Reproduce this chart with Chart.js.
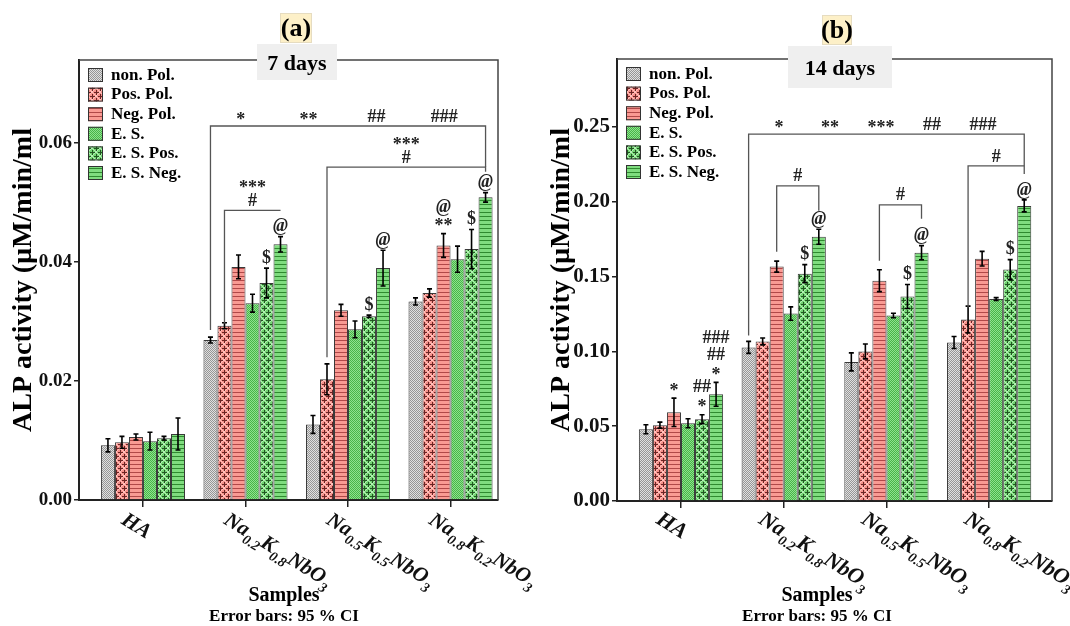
<!DOCTYPE html>
<html>
<head>
<meta charset="utf-8">
<script src="https://cdn.jsdelivr.net/npm/chart.js@4.4.0/dist/chart.umd.min.js"></script>
<style>
  body { margin: 0; background: #fff; width: 1070px; height: 626px; overflow: hidden; }
  .panel { position: absolute; top: 0; width: 535px; height: 626px; }
</style>
</head>
<body>
<div class="panel" style="left:0"><canvas id="chart7" width="535" height="626"></canvas></div>
<div class="panel" style="left:535px"><canvas id="chart14" width="535" height="626"></canvas></div>
<script>
const samples = ["HA", "Na0.2K0.8NbO3", "Na0.5K0.5NbO3", "Na0.8K0.2NbO3"];
const treatments = ["non. Pol.", "Pos. Pol.", "Neg. Pol.", "E. S.", "E. S. Pos.", "E. S. Neg."];
const yTicks7 = [0, 0.02, 0.04, 0.06];
const yTicks14 = [0, 0.05, 0.10, 0.15, 0.20, 0.25];

// one row per treatment, one column per sample
const alp7 = [
  [0.0092, 0.0269, 0.0127, 0.0334],
  [0.0097, 0.0293, 0.0203, 0.0348],
  [0.0106, 0.0392, 0.0319, 0.0428],
  [0.0099, 0.0331, 0.0287, 0.0405],
  [0.0104, 0.0365, 0.0309, 0.0422],
  [0.0111, 0.0430, 0.0390, 0.0509],
];
const ci7 = [
  [0.0011, 0.0005, 0.0015, 0.0006],
  [0.0010, 0.0005, 0.0026, 0.0007],
  [0.0005, 0.0020, 0.0010, 0.0020],
  [0.0015, 0.0015, 0.0014, 0.0022],
  [0.0003, 0.0025, 0.0002, 0.0033],
  [0.0027, 0.0013, 0.0030, 0.0008],
];
const alp14 = [
  [0.0480, 0.1027, 0.0930, 0.1060],
  [0.0507, 0.1067, 0.1000, 0.1213],
  [0.0593, 0.1567, 0.1473, 0.1620],
  [0.0520, 0.1253, 0.1240, 0.1350],
  [0.0547, 0.1520, 0.1367, 0.1547],
  [0.0713, 0.1767, 0.1660, 0.1973],
];
const ci14 = [
  [0.0030, 0.0040, 0.0060, 0.0040],
  [0.0020, 0.0023, 0.0050, 0.0090],
  [0.0095, 0.0037, 0.0073, 0.0049],
  [0.0030, 0.0045, 0.0015, 0.0010],
  [0.0030, 0.0060, 0.0080, 0.0067],
  [0.0080, 0.0050, 0.0047, 0.0040],
];

// significance marks: [sample, treatment, labels from bottom to top]
const marks7 = [
  [1, 4, ["$"]], [1, 5, ["@"]],
  [2, 4, ["$"]], [2, 5, ["@"]],
  [3, 2, ["**", "@"]], [3, 4, ["$"]], [3, 5, ["@"]],
];
const marks14 = [
  [0, 2, ["*"]], [0, 4, ["*", "##"]], [0, 5, ["*", "##", "###"]],
  [1, 4, ["$"]], [1, 5, ["@"]],
  [2, 4, ["$"]], [2, 5, ["@"]],
  [3, 4, ["$"]], [3, 5, ["@"]],
];
// brackets: from/to [sample, treatment], level and end values, label rows bottom-up
const brackets7 = [
  { from: [1, 0], to: [3, 5], top: 0.0629, ends: [0.0286, 0.0560], rows: [["*", "**", "##", "###"]] },
  { from: [2, 1], to: [3, 5], top: 0.0560, ends: [0.0240, 0.0552], rows: [["#"], ["***"]] },
  { from: [1, 1], to: [1, 5], top: 0.0487, ends: [0.0297, 0.0487], rows: [["#"], ["***"]] },
];
const brackets14 = [
  { from: [1, 0], to: [3, 5], top: 0.2453, ends: [0.1107, 0.2187], rows: [["*", "**", "***", "##", "###"]] },
  { from: [1, 2], to: [1, 5], top: 0.2107, ends: [0.1667, 0.1940], rows: [["#"]] },
  { from: [2, 2], to: [2, 5], top: 0.1980, ends: [0.1607, 0.1887], rows: [["#"]] },
  { from: [3, 1], to: [3, 5], top: 0.2240, ends: [0.1293, 0.2240], rows: [["#"]] },
];

const SERIF = '"Liberation Serif", "Times New Roman", serif';

function makePattern(kind, base, ink, light) {
  const c = document.createElement("canvas");
  const g = c.getContext("2d");
  if (kind === "dots") {
    c.width = 2; c.height = 2;
    g.fillStyle = base; g.fillRect(0, 0, 2, 2);
    g.fillStyle = ink; g.fillRect(0, 0, 1, 1); g.fillRect(1, 1, 1, 1);
  } else if (kind === "lines") {
    c.width = 4; c.height = 4;
    g.fillStyle = base; g.fillRect(0, 0, 4, 4);
    g.fillStyle = ink; g.fillRect(0, 0, 4, 1);
  } else {
    c.width = 8; c.height = 8;
    g.fillStyle = base; g.fillRect(0, 0, 8, 8);
    g.strokeStyle = light; g.lineWidth = 1;
    g.beginPath();
    g.moveTo(0, 0); g.lineTo(8, 8); g.moveTo(8, 0); g.lineTo(0, 8);
    g.stroke();
    g.fillStyle = ink;
    for (const [px, py] of [[4, 0], [0, 4]]) {
      for (const ox of [-8, 0, 8]) {
        for (const oy of [-8, 0, 8]) {
          g.fillRect(px - 2 + ox, py + oy, 5, 1);
          g.fillRect(px + ox, py - 2 + oy, 1, 5);
        }
      }
    }
  }
  return g.createPattern(c, "repeat");
}

const fills = [
  makePattern("dots", "#e0e0e0", "#969696"),
  makePattern("plus", "#f6908a", "#6a2424", "#ffc2bd"),
  makePattern("lines", "#f99a93", "#b04848"),
  makePattern("dots", "#8ee28e", "#48b448"),
  makePattern("plus", "#72d472", "#215621", "#b4efb4"),
  makePattern("lines", "#7fdc7f", "#2f8a2f"),
];

function drawSample(ctx, text, x, y, size) {
  const parts = text.split(/(\d+(?:\.\d+)?)/);
  ctx.save();
  ctx.translate(x, y);
  ctx.rotate(32 * Math.PI / 180);
  ctx.textAlign = "left";
  ctx.textBaseline = "alphabetic";
  ctx.fillStyle = "#111";
  let cx = 0;
  parts.forEach((t, i) => {
    if (!t) return;
    const sub = i % 2 === 1;
    ctx.font = `italic bold ${sub ? Math.round(size * 0.65) : size}px ${SERIF}`;
    ctx.fillText(t, cx, size * 0.78 + (sub ? size * 0.3 : 0));
    cx += ctx.measureText(t).width;
  });
  ctx.restore();
}

function markText(ctx, t, x, y) {
  ctx.font = (t === "@" ? "italic " : "") + `bold 18px ${SERIF}`;
  ctx.fillText(t, x, y + (t[0] === "*" ? 3 : 0));
}

const decor = (p) => ({
  id: "decor",
  afterDatasetsDraw(chart) {
    const ctx = chart.ctx;
    const ys = chart.scales.y;
    const barAt = (g, s) => chart.getDatasetMeta(s).data[g];
    const errTop = (g, s) => ys.getPixelForValue(p.means[s][g] + p.ci[s][g]);
    ctx.save();
    // error bars
    ctx.strokeStyle = "#000";
    ctx.lineWidth = 1.6;
    treatments.forEach((_, s) => {
      chart.getDatasetMeta(s).data.forEach((bar, g) => {
        const hi = errTop(g, s);
        const lo = ys.getPixelForValue(p.means[s][g] - p.ci[s][g]);
        ctx.beginPath();
        ctx.moveTo(bar.x, hi); ctx.lineTo(bar.x, lo);
        ctx.moveTo(bar.x - 2.5, hi); ctx.lineTo(bar.x + 2.5, hi);
        ctx.moveTo(bar.x - 2.5, lo); ctx.lineTo(bar.x + 2.5, lo);
        ctx.stroke();
      });
    });
    // marks above bars
    ctx.fillStyle = "#222";
    ctx.textAlign = "center";
    ctx.textBaseline = "middle";
    p.marks.forEach(([g, s, labels]) => {
      const x = barAt(g, s).x;
      const y0 = errTop(g, s);
      labels.forEach((t, i) => markText(ctx, t, x, y0 - 10 - i * p.markStep));
    });
    // brackets
    p.brackets.forEach((b) => {
      const x1 = barAt(b.from[0], b.from[1]).x;
      const x2 = barAt(b.to[0], b.to[1]).x;
      const yt = ys.getPixelForValue(b.top);
      ctx.strokeStyle = "#555";
      ctx.lineWidth = 1.3;
      ctx.beginPath();
      ctx.moveTo(x1, ys.getPixelForValue(b.ends[0]));
      ctx.lineTo(x1, yt);
      ctx.lineTo(x2, yt);
      ctx.lineTo(x2, ys.getPixelForValue(b.ends[1]));
      ctx.stroke();
      b.rows.forEach((row, r) => {
        row.forEach((t, k) => {
          const x = row.length > 1 ? x1 + (x2 - x1) * (0.11 + k * 0.74 / (row.length - 1)) : (x1 + x2) / 2;
          markText(ctx, t, x, yt - 9 - r * 16);
        });
      });
    });
    ctx.restore();
  },
  afterDraw(chart) {
    const ctx = chart.ctx;
    const a = chart.chartArea;
    const xs = chart.scales.x;
    ctx.save();
    // frame top / right
    ctx.strokeStyle = "#444";
    ctx.lineWidth = 1.5;
    ctx.beginPath();
    ctx.moveTo(a.left, a.top); ctx.lineTo(a.right, a.top); ctx.lineTo(a.right, a.bottom);
    ctx.stroke();
    // legend
    treatments.forEach((name, s) => {
      const by = a.top + 8 + s * 19.6;
      ctx.fillStyle = fills[s];
      ctx.fillRect(a.left + 9, by, 15, 14);
      ctx.strokeStyle = "#333";
      ctx.lineWidth = 1;
      ctx.strokeRect(a.left + 9.5, by + 0.5, 14, 13);
      ctx.fillStyle = "#000";
      ctx.font = `bold 17px ${SERIF}`;
      ctx.textAlign = "left";
      ctx.textBaseline = "middle";
      ctx.fillText(name, a.left + 32, by + 7.5);
    });
    // panel tag and day label
    const [tx, ty, tw, th] = p.tagBox;
    ctx.fillStyle = "#fdf0c8";
    ctx.fillRect(tx, ty, tw, th);
    ctx.strokeStyle = "#e6dcc0";
    ctx.strokeRect(tx + 0.5, ty + 0.5, tw - 1, th - 1);
    ctx.fillStyle = "#000";
    ctx.textAlign = "center";
    ctx.textBaseline = "middle";
    ctx.font = `bold 26px ${SERIF}`;
    ctx.fillText(p.tag, tx + tw / 2, ty + th / 2 + 1);
    const [dx, dy, dw, dh] = p.daysBox;
    ctx.fillStyle = "#efefef";
    ctx.fillRect(dx, dy, dw, dh);
    ctx.fillStyle = "#000";
    ctx.font = `bold 22px ${SERIF}`;
    ctx.fillText(p.days, dx + dw / 2, dy + dh / 2 + 2);
    // sample labels
    samples.forEach((name, i) => {
      drawSample(ctx, name, xs.getPixelForValue(i) + p.lblDx, p.lblY, p.lblSize);
    });
    // axis caption
    ctx.fillStyle = "#000";
    ctx.textAlign = "center";
    ctx.textBaseline = "alphabetic";
    ctx.font = `bold 20px ${SERIF}`;
    ctx.fillText("Samples", p.footX, 601);
    ctx.font = `bold 17px ${SERIF}`;
    ctx.fillText("Error bars: 95 % CI", p.footX, 621);
    ctx.restore();
  },
});

function buildPanel(p) {
  const datasets = treatments.map((name, s) => ({
    label: name,
    data: samples.map((_, g) => ({ x: g, y: p.means[s][g] })),
    backgroundColor: fills[s],
    borderColor: "#3a3a3a",
    borderWidth: 1,
    categoryPercentage: 0.82,
    barPercentage: 1,
  }));
  const axisLine = { display: true, color: "#222", width: 2 };
  return new Chart(document.getElementById(p.canvas), {
    type: "bar",
    data: { datasets },
    options: {
      responsive: false,
      animation: false,
      events: [],
      layout: { padding: { top: p.area.top, right: 535 - p.area.right, left: 0, bottom: 0 } },
      plugins: { legend: { display: false }, tooltip: { enabled: false } },
      scales: {
        x: {
          type: "linear",
          min: p.xMin,
          max: p.xMax,
          offset: false,
          afterBuildTicks: (sc) => { sc.ticks = samples.map((_, i) => ({ value: i })); },
          afterFit: (sc) => { sc.height = 626 - p.area.bottom; },
          ticks: { display: false },
          grid: { display: true, offset: false, drawOnChartArea: false, drawTicks: true, tickLength: 7, color: "#222", lineWidth: 1.5 },
          border: axisLine,
        },
        y: {
          min: 0,
          max: p.yMax,
          afterBuildTicks: (sc) => { sc.ticks = p.yTicks.map((v) => ({ value: v })); },
          afterFit: (sc) => { sc.width = p.area.left; },
          ticks: {
            callback: (v) => v.toFixed(2),
            font: { family: SERIF, size: p.tickSize, weight: "bold" },
            color: "#111",
            padding: 2,
          },
          grid: { display: true, drawOnChartArea: false, drawTicks: true, tickLength: 5, color: "#222", lineWidth: 1.5 },
          border: axisLine,
          title: {
            display: true,
            text: "ALP activity (µM/min/ml",
            font: { family: SERIF, size: p.titleSize, weight: "bold" },
            color: "#000",
            padding: { top: p.titlePad, bottom: 0 },
          },
        },
      },
    },
    plugins: [decor(p)],
  });
}

buildPanel({
  canvas: "chart7", means: alp7, ci: ci7, yTicks: yTicks7, yMax: 0.074,
  marks: marks7, brackets: brackets7, markStep: 16,
  area: { left: 79, right: 498, top: 60, bottom: 500 }, xMin: -0.624, xMax: 3.463,
  tickSize: 19, titleSize: 28, titlePad: 7, lblSize: 21, lblDx: -14, lblY: 509,
  tag: "(a)", tagBox: [280, 13, 32, 30], days: "7 days", daysBox: [257, 44, 80, 36], footX: 284,
});

buildPanel({
  canvas: "chart14", means: alp14, ci: ci14, yTicks: yTicks14, yMax: 0.2955,
  marks: marks14, brackets: brackets14, markStep: 17,
  area: { left: 82, right: 517, top: 59, bottom: 501 }, xMin: -0.623, xMax: 3.612,
  tickSize: 21, titleSize: 28, titlePad: 10, lblSize: 22, lblDx: -17, lblY: 508,
  tag: "(b)", tagBox: [287, 15, 30, 30], days: "14 days", daysBox: [253, 46, 104, 42], footX: 282,
});
</script>
</body>
</html>
